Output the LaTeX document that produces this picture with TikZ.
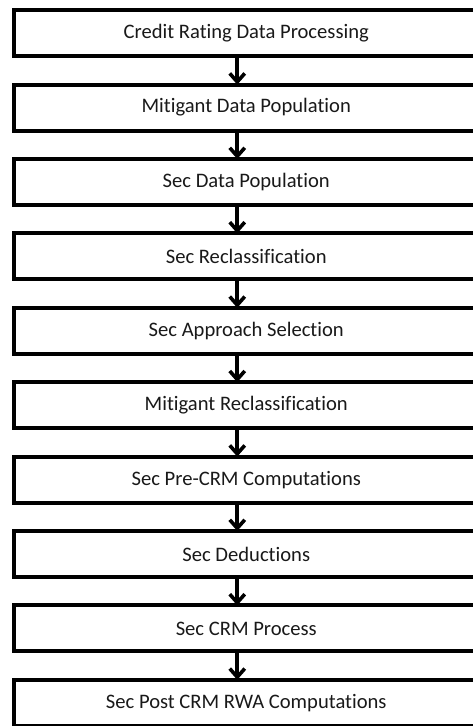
\documentclass[tikz,border=0pt]{standalone}
\usepackage{fontspec}
\setmainfont{Carlito}[Ligatures=NoCommon]
\usetikzlibrary{arrows.meta}
\begin{document}
\begin{tikzpicture}[x=1pt,y=-1pt,
  stepbox/.style={draw=black, line width=4pt, minimum width=465pt, minimum height=46pt,
    inner sep=0pt, outer sep=0pt, font=\fontsize{20.6}{24}\selectfont, text=black!90},
  flowarrow/.style={line width=3.6pt, -{Straight Barb[length=8.5pt,width=15pt,line width=3.6pt]}}]
\useasboundingbox (0,0) rectangle (473,726);
\clip (0,0) rectangle (473,726);
\foreach \i/\t in {1/Credit Rating Data Processing,2/Mitigant Data Population,3/Sec Data Population,4/Sec Reclassification,5/Sec Approach Selection,6/Mitigant Reclassification,7/Sec Pre-CRM Computations,8/Sec Deductions,9/Sec CRM Process,10/Sec Post CRM RWA Computations}{
  \node[stepbox] (b\i) at (246.25, {33.2+74.4*(\i-1)}) {\t};
}
\foreach \i [evaluate=\i as \j using int(\i+1)] in {1,...,9}{
  \draw[flowarrow] ([xshift=-9pt]b\i.south) -- ([xshift=-9pt]b\j.north);
}
\end{tikzpicture}
\end{document}
